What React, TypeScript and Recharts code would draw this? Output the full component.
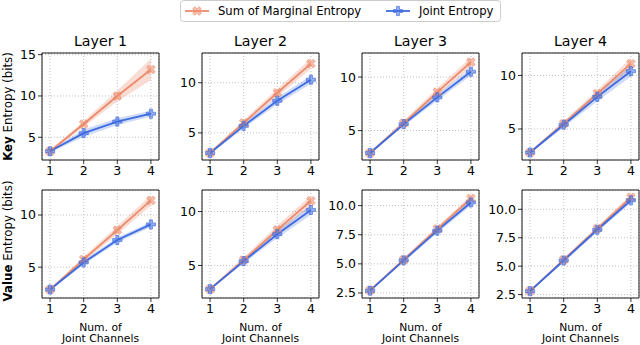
import React from 'react';
import { ComposedChart, Line, Area, XAxis, YAxis, CartesianGrid, ReferenceArea } from 'recharts';

const channels = [1, 2, 3, 4];
const layerTitles = ['Layer 1', 'Layer 2', 'Layer 3', 'Layer 4'];

// Key entropy (row 1)
const keyMarginal = [
  [3.3, 6.6, 10.0, 13.2],
  [3.0, 6.0, 9.0, 11.9],
  [2.9, 5.7, 8.6, 11.4],
  [2.8, 5.5, 8.3, 11.1],
];
const keyMarginalErr = [
  [0.15, 0.35, 0.65, 1.3],
  [0.1, 0.25, 0.4, 0.5],
  [0.1, 0.25, 0.35, 0.45],
  [0.1, 0.25, 0.35, 0.5],
];
const keyJoint = [
  [3.3, 5.5, 6.9, 7.85],
  [3.0, 5.7, 8.2, 10.3],
  [2.9, 5.6, 8.1, 10.5],
  [2.8, 5.4, 8.0, 10.4],
];
const keyJointErr = [
  [0.15, 0.45, 0.4, 0.35],
  [0.1, 0.25, 0.35, 0.4],
  [0.1, 0.2, 0.3, 0.35],
  [0.1, 0.25, 0.4, 0.5],
];

// Value entropy (row 2)
const valueMarginal = [
  [2.85, 5.75, 8.55, 11.4],
  [2.8, 5.5, 8.3, 11.0],
  [2.72, 5.35, 8.0, 10.62],
  [2.82, 5.55, 8.3, 11.05],
];
const valueMarginalErr = [
  [0.1, 0.25, 0.4, 0.5],
  [0.1, 0.25, 0.4, 0.5],
  [0.08, 0.15, 0.2, 0.25],
  [0.08, 0.15, 0.2, 0.25],
];
const valueJoint = [
  [2.85, 5.45, 7.6, 9.1],
  [2.8, 5.4, 7.9, 10.15],
  [2.7, 5.3, 7.85, 10.27],
  [2.8, 5.5, 8.2, 10.8],
];
const valueJointErr = [
  [0.1, 0.2, 0.25, 0.25],
  [0.1, 0.2, 0.35, 0.45],
  [0.08, 0.15, 0.2, 0.25],
  [0.08, 0.15, 0.2, 0.25],
];

const keyDomains: [number, number][] = [
  [2.25, 15.2],
  [2.3, 12.96],
  [2.25, 12.25],
  [2.1, 12.1],
];
const valueDomains: [number, number][] = [
  [2.04, 12.4],
  [1.98, 12.0],
  [2.07, 11.34],
  [2.2, 11.7],
];
const keyTicks = [[5, 10, 15], [5, 10], [5, 10], [5, 10]];
const valueTicks = [[5, 10], [5, 10], [2.5, 5, 7.5, 10], [2.5, 5, 7.5, 10]];
const valueTickDecimals = [0, 0, 1, 1];

const ORANGE = '#EC8B6C';
const BLUE = '#3D6BE0';
const X_DOMAIN: [number, number] = [0.76, 4.24];
const FONT = '"DejaVu Sans", sans-serif';

const PLUS_PTS = (w: number, L: number) =>
  [
    [-w, -L], [w, -L], [w, -w], [L, -w], [L, w], [w, w],
    [w, L], [-w, L], [-w, w], [-L, w], [-L, -w], [-w, -w],
  ].map((p) => p.join(',')).join(' ');

function Marker({ cx, cy, color, rotate }: { cx: number; cy: number; color: string; rotate: number }) {
  if (cx == null || cy == null || isNaN(cx) || isNaN(cy)) return null;
  return (
    <polygon
      points={PLUS_PTS(1.5, 4.6)}
      transform={`translate(${cx},${cy}) rotate(${rotate})`}
      fill={color}
      fillOpacity={0.55}
      stroke={color}
      strokeOpacity={0.8}
      strokeWidth={0.8}
    />
  );
}

type PanelProps = {
  left: number;
  top: number;
  plotHeight: number;
  marg: number[];
  margErr: number[];
  joint: number[];
  jointErr: number[];
  domain: [number, number];
  ticks: number[];
  decimals: number;
};

const Y_AXIS_W = 40;
const PLOT_W = 117;
const M_TOP = 10;
const M_RIGHT = 2;
const X_AXIS_H = 20;

function Panel(p: PanelProps) {
  const data = channels.map((c, i) => ({
    x: c,
    m: p.marg[i],
    mBand: [p.marg[i] - p.margErr[i], p.marg[i] + p.margErr[i]],
    j: p.joint[i],
    jBand: [p.joint[i] - p.jointErr[i], p.joint[i] + p.jointErr[i]],
  }));
  const width = Y_AXIS_W + PLOT_W + M_RIGHT;
  const height = M_TOP + p.plotHeight + X_AXIS_H;
  const tickStyle = { fontSize: 12.5, fill: '#000', fontFamily: FONT };
  return (
    <div style={{ position: 'absolute', left: p.left - Y_AXIS_W, top: p.top - M_TOP }}>
      <ComposedChart width={width} height={height} data={data} margin={{ top: M_TOP, right: M_RIGHT, left: 0, bottom: 0 }}>
        <CartesianGrid stroke="#b0b0b0" strokeDasharray="1 2" strokeWidth={0.8} />
        <XAxis
          type="number"
          dataKey="x"
          domain={X_DOMAIN}
          ticks={channels}
          allowDataOverflow
          axisLine={false}
          tickLine={{ stroke: '#000', strokeWidth: 0.8 }}
          tickSize={4}
          tick={tickStyle}
          height={X_AXIS_H}
          interval={0}
        />
        <YAxis
          type="number"
          domain={p.domain}
          ticks={p.ticks}
          allowDataOverflow
          axisLine={false}
          tickLine={{ stroke: '#000', strokeWidth: 0.8 }}
          tickSize={4}
          tick={tickStyle}
          width={Y_AXIS_W}
          interval={0}
          tickFormatter={(v: number) => v.toFixed(p.decimals)}
        />
        <Area
          dataKey="mBand"
          type="linear"
          stroke="none"
          fill={ORANGE}
          fillOpacity={0.3}
          isAnimationActive={false}
          activeDot={false}
        />
        <Line
          dataKey="m"
          type="linear"
          stroke={ORANGE}
          strokeWidth={1.8}
          isAnimationActive={false}
          activeDot={false}
          dot={(d: any) => <Marker key={`m${d.index}`} cx={d.cx} cy={d.cy} color={ORANGE} rotate={45} />}
        />
        <Area
          dataKey="jBand"
          type="linear"
          stroke="none"
          fill={BLUE}
          fillOpacity={0.25}
          isAnimationActive={false}
          activeDot={false}
        />
        <Line
          dataKey="j"
          type="linear"
          stroke={BLUE}
          strokeWidth={1.8}
          isAnimationActive={false}
          activeDot={false}
          dot={(d: any) => <Marker key={`j${d.index}`} cx={d.cx} cy={d.cy} color={BLUE} rotate={0} />}
        />
        <ReferenceArea
          x1={X_DOMAIN[0]}
          x2={X_DOMAIN[1]}
          y1={p.domain[0]}
          y2={p.domain[1]}
          fill="none"
          stroke="#000"
          strokeWidth={0.9}
        />
      </ComposedChart>
    </div>
  );
}

const colLefts = [42, 202, 362, 522];
const ROW1_TOP = 53;
const ROW1_H = 107;
const ROW2_TOP = 190;
const ROW2_H = 108;

export default function App() {
  return (
    <div style={{ position: 'absolute', left: 0, top: 0, width: 640, height: 345, background: '#fff', fontFamily: FONT }}>
      {layerTitles.map((t, i) => (
        <Panel
          key={`k${i}`}
          left={colLefts[i]}
          top={ROW1_TOP}
          plotHeight={ROW1_H}
          marg={keyMarginal[i]}
          margErr={keyMarginalErr[i]}
          joint={keyJoint[i]}
          jointErr={keyJointErr[i]}
          domain={keyDomains[i]}
          ticks={keyTicks[i]}
          decimals={0}
        />
      ))}
      {layerTitles.map((t, i) => (
        <Panel
          key={`v${i}`}
          left={colLefts[i]}
          top={ROW2_TOP}
          plotHeight={ROW2_H}
          marg={valueMarginal[i]}
          margErr={valueMarginalErr[i]}
          joint={valueJoint[i]}
          jointErr={valueJointErr[i]}
          domain={valueDomains[i]}
          ticks={valueTicks[i]}
          decimals={valueTickDecimals[i]}
        />
      ))}
      <svg
        width={640}
        height={345}
        style={{ position: 'absolute', left: 0, top: 0, pointerEvents: 'none' }}
        fontFamily={FONT}
      >
        {layerTitles.map((t, i) => (
          <text key={t} x={colLefts[i] + PLOT_W / 2} y={45.5} fontSize={14.2} textAnchor="middle" fill="#000">
            {t}
          </text>
        ))}
        <text transform={`translate(11.5,${ROW1_TOP + ROW1_H / 2}) rotate(-90)`} fontSize={11.8} textAnchor="middle" fill="#000">
          <tspan fontWeight="bold">Key</tspan> Entropy (bits)
        </text>
        <text transform={`translate(11.5,${ROW2_TOP + ROW2_H / 2 - 3}) rotate(-90)`} fontSize={11.8} textAnchor="middle" fill="#000">
          <tspan fontWeight="bold">Value</tspan> Entropy (bits)
        </text>
        {colLefts.map((l, i) => (
          <g key={`xl${i}`}>
            <text x={l + PLOT_W / 2} y={330.5} fontSize={10.8} textAnchor="middle" fill="#000">Num. of</text>
            <text x={l + PLOT_W / 2} y={342} fontSize={10.8} textAnchor="middle" fill="#000">Joint Channels</text>
          </g>
        ))}
        {/* Legend */}
        <rect x={180.5} y={0.5} width={320} height={21} rx={3} fill="#fff" fillOpacity={0.8} stroke="#cccccc" strokeWidth={1} />
        <line x1={185} x2={209} y1={11} y2={11} stroke={ORANGE} strokeWidth={1.8} />
        <Marker cx={197} cy={11} color={ORANGE} rotate={45} />
        <text x={218} y={15.2} fontSize={11.6} fill="#000">Sum of Marginal Entropy</text>
        <line x1={386} x2={410} y1={11} y2={11} stroke={BLUE} strokeWidth={1.8} />
        <Marker cx={398} cy={11} color={BLUE} rotate={0} />
        <text x={419} y={15.2} fontSize={11.6} fill="#000">Joint Entropy</text>
      </svg>
    </div>
  );
}
